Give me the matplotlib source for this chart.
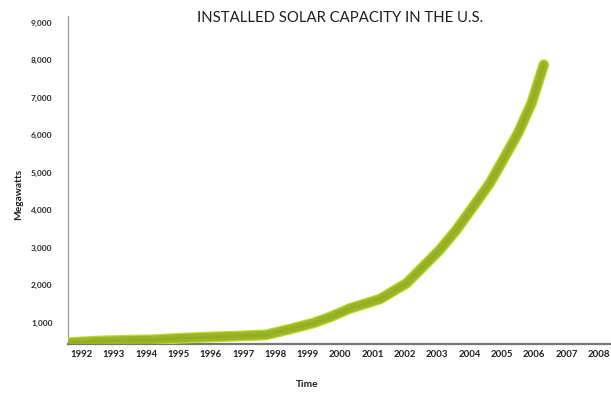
import matplotlib.pyplot as plt
import numpy as np

# installed solar capacity
years = [1991.58, 1992.5, 1993.3, 1994.2, 1995.03, 1996.0, 1997.0, 1997.7,
         1998.4, 1999.16, 1999.68, 2000.3, 2001.23, 2002.05, 2003.08,
         2003.6, 2004.11, 2004.63, 2005.04, 2005.5, 2005.92, 2006.3]
megawatts = [470, 510, 530, 545, 585, 620, 650, 675,
             820, 990, 1150, 1380, 1630, 2050, 2940,
             3480, 4090, 4720, 5340, 6050, 6850, 7880]

year_ticks = list(range(1992, 2009))
mw_ticks = [1000, 2000, 3000, 4000, 5000, 6000, 7000, 8000, 9000]

plt.rcParams['font.family'] = ['Lato', 'DejaVu Sans']

fig = plt.figure(figsize=(6.11, 3.96), dpi=100)
ax = fig.add_axes([0.111, 0.1313, 0.889, 0.8283])

# thick fuzzy green stroke: bright rim with darker core
ax.plot(years, megawatts, color='#c3d92e', lw=7.8, solid_capstyle='round',
        solid_joinstyle='round', zorder=3)
ax.plot(years, megawatts, color='#9ab626', lw=6.0, solid_capstyle='round',
        solid_joinstyle='round', zorder=4)
ax.plot(years, megawatts, color='#86a021', lw=2.0, alpha=0.35,
        solid_capstyle='round', solid_joinstyle='round', zorder=5)

ax.set_xlim(1991.57, 2008.38)
ax.set_ylim(432, 9179)

ax.set_xticks(year_ticks)
ax.set_xticklabels([str(y) for y in year_ticks], fontsize=6.9,
                   fontweight='bold', color='#1e1e1e')
ax.set_yticks(mw_ticks)
ax.set_yticklabels([f'{v:,}' for v in mw_ticks], fontsize=6.0,
                   fontweight='bold', color='#2a2a2a')
ax.tick_params(axis='both', length=0)
ax.tick_params(axis='y', pad=11)
ax.tick_params(axis='x', pad=4)

for side in ['top', 'right']:
    ax.spines[side].set_visible(False)
ax.spines['left'].set_color('#9a9aa8')
ax.spines['left'].set_linewidth(0.9)
ax.spines['bottom'].set_color('#777777')
ax.spines['bottom'].set_linewidth(1.6)

fig.text(0.556, 0.955, 'INSTALLED SOLAR CAPACITY IN THE U.S.', ha='center',
         va='center', fontsize=10.7, color='#1e1e1e')
fig.text(0.031, 0.508, 'Megawatts', rotation=90, ha='center', va='center',
         fontsize=7.3, fontweight='bold', color='#1e1e1e')
fig.text(0.503, 0.028, 'Time', ha='center', va='center', fontsize=7.3,
         fontweight='bold', color='#1e1e1e')

fig.savefig('out.png', dpi=100)
